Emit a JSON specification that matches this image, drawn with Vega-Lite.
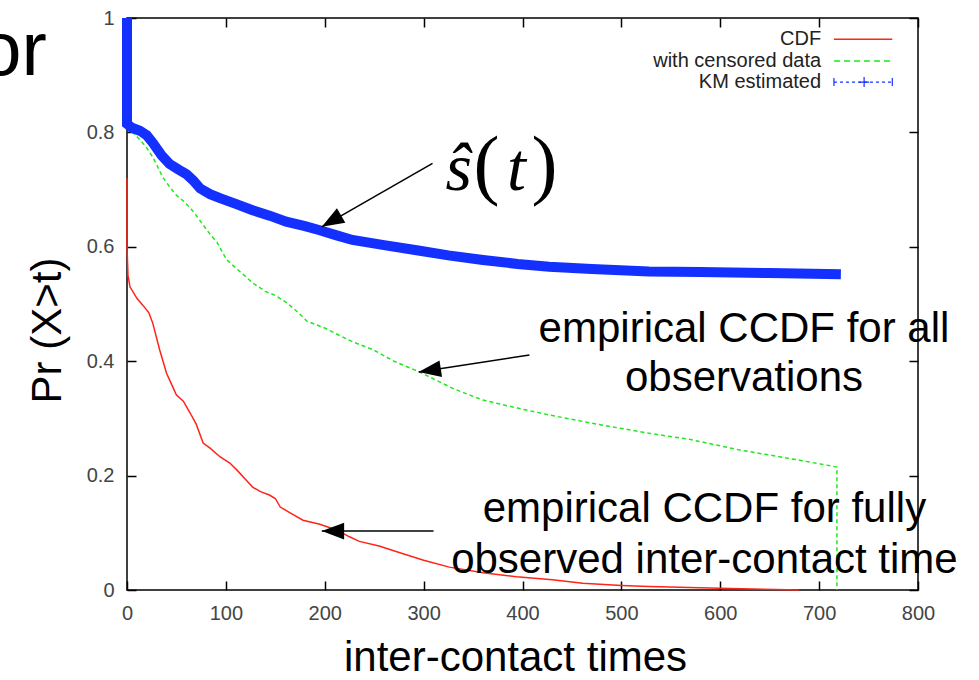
{
  "$schema": "https://vega.github.io/schema/vega-lite/v6.json",
  "width": 791,
  "height": 572,
  "autosize": {"type": "none"},
  "padding": {"left": 127, "top": 18, "right": 61, "bottom": 90},
  "background": "white",
  "config": {
    "view": {"stroke": "#000", "strokeWidth": 1.5},
    "font": "Liberation Sans"
  },
  "datasets": {
    "curves": [
      {"s": "red", "o": 0, "t": 0, "v": 0.72},
      {"s": "red", "o": 1, "t": 0, "v": 0.60},
      {"s": "red", "o": 2, "t": 1, "v": 0.55},
      {"s": "red", "o": 3, "t": 3, "v": 0.53},
      {"s": "red", "o": 4, "t": 10, "v": 0.51},
      {"s": "red", "o": 5, "t": 16, "v": 0.498},
      {"s": "red", "o": 6, "t": 22, "v": 0.485},
      {"s": "red", "o": 7, "t": 26, "v": 0.467},
      {"s": "red", "o": 8, "t": 33, "v": 0.42},
      {"s": "red", "o": 9, "t": 40, "v": 0.379},
      {"s": "red", "o": 10, "t": 45, "v": 0.36},
      {"s": "red", "o": 11, "t": 50, "v": 0.341},
      {"s": "red", "o": 12, "t": 57, "v": 0.33},
      {"s": "red", "o": 13, "t": 64, "v": 0.309},
      {"s": "red", "o": 14, "t": 70, "v": 0.29},
      {"s": "red", "o": 15, "t": 77, "v": 0.257},
      {"s": "red", "o": 16, "t": 84, "v": 0.248},
      {"s": "red", "o": 17, "t": 94, "v": 0.233},
      {"s": "red", "o": 18, "t": 104, "v": 0.222},
      {"s": "red", "o": 19, "t": 111, "v": 0.21},
      {"s": "red", "o": 20, "t": 120, "v": 0.193},
      {"s": "red", "o": 21, "t": 127, "v": 0.18},
      {"s": "red", "o": 22, "t": 135, "v": 0.172},
      {"s": "red", "o": 23, "t": 144, "v": 0.166},
      {"s": "red", "o": 24, "t": 150, "v": 0.16},
      {"s": "red", "o": 25, "t": 155, "v": 0.145},
      {"s": "red", "o": 26, "t": 165, "v": 0.135},
      {"s": "red", "o": 27, "t": 178, "v": 0.122},
      {"s": "red", "o": 28, "t": 195, "v": 0.115},
      {"s": "red", "o": 29, "t": 212, "v": 0.105},
      {"s": "red", "o": 30, "t": 225, "v": 0.093},
      {"s": "red", "o": 31, "t": 235, "v": 0.085},
      {"s": "red", "o": 32, "t": 255, "v": 0.077},
      {"s": "red", "o": 33, "t": 276, "v": 0.065},
      {"s": "red", "o": 34, "t": 300, "v": 0.052},
      {"s": "red", "o": 35, "t": 326, "v": 0.04},
      {"s": "red", "o": 36, "t": 360, "v": 0.03},
      {"s": "red", "o": 37, "t": 394, "v": 0.023},
      {"s": "red", "o": 38, "t": 430, "v": 0.018},
      {"s": "red", "o": 39, "t": 461, "v": 0.012},
      {"s": "red", "o": 40, "t": 500, "v": 0.008},
      {"s": "red", "o": 41, "t": 528, "v": 0.006},
      {"s": "red", "o": 42, "t": 600, "v": 0.003},
      {"s": "red", "o": 43, "t": 680, "v": 0.0},
      {"s": "green", "o": 0, "t": 0, "v": 0.81},
      {"s": "green", "o": 1, "t": 5, "v": 0.802},
      {"s": "green", "o": 2, "t": 13, "v": 0.787},
      {"s": "green", "o": 3, "t": 20, "v": 0.773},
      {"s": "green", "o": 4, "t": 26, "v": 0.757},
      {"s": "green", "o": 5, "t": 31, "v": 0.74},
      {"s": "green", "o": 6, "t": 36, "v": 0.722},
      {"s": "green", "o": 7, "t": 43, "v": 0.705},
      {"s": "green", "o": 8, "t": 50, "v": 0.69},
      {"s": "green", "o": 9, "t": 57, "v": 0.68},
      {"s": "green", "o": 10, "t": 64, "v": 0.668},
      {"s": "green", "o": 11, "t": 70, "v": 0.655},
      {"s": "green", "o": 12, "t": 77, "v": 0.638},
      {"s": "green", "o": 13, "t": 84, "v": 0.622},
      {"s": "green", "o": 14, "t": 91, "v": 0.608},
      {"s": "green", "o": 15, "t": 96, "v": 0.592},
      {"s": "green", "o": 16, "t": 101, "v": 0.577},
      {"s": "green", "o": 17, "t": 110, "v": 0.563},
      {"s": "green", "o": 18, "t": 120, "v": 0.548},
      {"s": "green", "o": 19, "t": 127, "v": 0.537},
      {"s": "green", "o": 20, "t": 140, "v": 0.522},
      {"s": "green", "o": 21, "t": 150, "v": 0.515},
      {"s": "green", "o": 22, "t": 161, "v": 0.503},
      {"s": "green", "o": 23, "t": 172, "v": 0.487},
      {"s": "green", "o": 24, "t": 182, "v": 0.47},
      {"s": "green", "o": 25, "t": 200, "v": 0.458},
      {"s": "green", "o": 26, "t": 215, "v": 0.445},
      {"s": "green", "o": 27, "t": 228, "v": 0.434},
      {"s": "green", "o": 28, "t": 249, "v": 0.42},
      {"s": "green", "o": 29, "t": 270, "v": 0.4},
      {"s": "green", "o": 30, "t": 296, "v": 0.381},
      {"s": "green", "o": 31, "t": 330, "v": 0.352},
      {"s": "green", "o": 32, "t": 360, "v": 0.332},
      {"s": "green", "o": 33, "t": 395, "v": 0.318},
      {"s": "green", "o": 34, "t": 427, "v": 0.306},
      {"s": "green", "o": 35, "t": 475, "v": 0.29},
      {"s": "green", "o": 36, "t": 528, "v": 0.274},
      {"s": "green", "o": 37, "t": 570, "v": 0.263},
      {"s": "green", "o": 38, "t": 619, "v": 0.245},
      {"s": "green", "o": 39, "t": 670, "v": 0.23},
      {"s": "green", "o": 40, "t": 718, "v": 0.215},
      {"s": "green", "o": 41, "t": 718, "v": 0.0},
      {"s": "blue", "o": 0, "t": 0, "v": 1.0},
      {"s": "blue", "o": 1, "t": 0, "v": 0.815},
      {"s": "blue", "o": 2, "t": 5, "v": 0.808},
      {"s": "blue", "o": 3, "t": 13, "v": 0.803},
      {"s": "blue", "o": 4, "t": 20, "v": 0.795},
      {"s": "blue", "o": 5, "t": 26, "v": 0.782},
      {"s": "blue", "o": 6, "t": 35, "v": 0.76},
      {"s": "blue", "o": 7, "t": 43, "v": 0.745},
      {"s": "blue", "o": 8, "t": 52, "v": 0.735},
      {"s": "blue", "o": 9, "t": 60, "v": 0.727},
      {"s": "blue", "o": 10, "t": 67, "v": 0.716},
      {"s": "blue", "o": 11, "t": 74, "v": 0.702},
      {"s": "blue", "o": 12, "t": 84, "v": 0.692},
      {"s": "blue", "o": 13, "t": 94, "v": 0.685},
      {"s": "blue", "o": 14, "t": 110, "v": 0.675},
      {"s": "blue", "o": 15, "t": 127, "v": 0.664},
      {"s": "blue", "o": 16, "t": 145, "v": 0.654},
      {"s": "blue", "o": 17, "t": 161, "v": 0.644},
      {"s": "blue", "o": 18, "t": 180, "v": 0.636},
      {"s": "blue", "o": 19, "t": 195, "v": 0.629},
      {"s": "blue", "o": 20, "t": 212, "v": 0.62},
      {"s": "blue", "o": 21, "t": 228, "v": 0.612},
      {"s": "blue", "o": 22, "t": 260, "v": 0.603},
      {"s": "blue", "o": 23, "t": 293, "v": 0.594},
      {"s": "blue", "o": 24, "t": 325, "v": 0.585},
      {"s": "blue", "o": 25, "t": 360, "v": 0.577},
      {"s": "blue", "o": 26, "t": 395, "v": 0.57},
      {"s": "blue", "o": 27, "t": 427, "v": 0.565},
      {"s": "blue", "o": 28, "t": 470, "v": 0.561},
      {"s": "blue", "o": 29, "t": 528, "v": 0.557},
      {"s": "blue", "o": 30, "t": 580, "v": 0.556},
      {"s": "blue", "o": 31, "t": 650, "v": 0.554},
      {"s": "blue", "o": 32, "t": 722, "v": 0.552}
    ],
    "legend": [
      {"label": "CDF", "s": "red", "v": 0.963},
      {"label": "with censored data", "s": "green", "v": 0.925},
      {"label": "KM estimated", "s": "blue", "v": 0.888}
    ],
    "arrows": [
      {"a": "s", "t1": 309, "v1": 0.746, "t2": 197, "v2": 0.635},
      {"a": "all", "t1": 407, "v1": 0.411, "t2": 295, "v2": 0.381},
      {"a": "fully", "t1": 310, "v1": 0.103, "t2": 197, "v2": 0.103}
    ],
    "notes": [
      {"text": "empirical CCDF for all", "t": 624, "v": 0.434},
      {"text": "observations", "t": 624, "v": 0.348},
      {"text": "empirical CCDF for fully", "t": 584, "v": 0.119},
      {"text": "observed inter-contact time", "t": 584, "v": 0.0297}
    ],
    "math": [
      {"ch": "ŝ", "t": 335.4, "v": 0.699, "it": true},
      {"ch": "(", "t": 363.6, "v": 0.699, "it": false},
      {"ch": "t", "t": 394, "v": 0.699, "it": true},
      {"ch": ")", "t": 422.2, "v": 0.699, "it": false}
    ],
    "slide": [
      {"text": "or", "t": -81, "v": 0.9}
    ]
  },
  "resolve": {"axis": {"x": "independent", "y": "independent"}},
  "layer": [
    {
      "data": {"name": "curves"},
      "transform": [{"filter": "datum.s === 'red'"}],
      "mark": {"type": "line", "color": "#ff2418", "strokeWidth": 1.5},
      "encoding": {
        "x": {"field": "t", "type": "quantitative",
          "scale": {"domain": [0, 800], "nice": false},
          "axis": {"orient": "bottom", "values": [0, 100, 200, 300, 400, 500, 600, 700, 800], "format": "d",
            "domain": false, "grid": false, "tickSize": -9, "tickWidth": 1.5, "tickColor": "#000",
            "labelPadding": 22, "labelFont": "Liberation Sans", "labelFontSize": 20, "labelColor": "#444",
            "labelFlush": false, "labelOverlap": false, "labelBound": false,
            "title": "inter-contact times", "titleFont": "Liberation Sans", "titleFontSize": 42,
            "titleFontWeight": "normal", "titleColor": "#000", "titleX": 388, "titleY": 80,
            "titleBaseline": "alphabetic", "titleAlign": "center"}},
        "y": {"field": "v", "type": "quantitative",
          "scale": {"domain": [0, 1], "nice": false},
          "axis": {"orient": "left", "values": [0, 0.2, 0.4, 0.6, 0.8, 1], "format": "~g",
            "domain": false, "grid": false, "tickSize": -9, "tickWidth": 1.5, "tickColor": "#000",
            "labelPadding": 22, "labelFont": "Liberation Sans", "labelFontSize": 20, "labelColor": "#444",
            "labelFlush": false, "labelOverlap": false, "labelBound": false,
            "title": "Pr (X>t)", "titleFont": "Liberation Sans", "titleFontSize": 42,
            "titleFontWeight": "normal", "titleColor": "#000", "titleAngle": 270, "titleX": -67, "titleY": 312,
            "titleBaseline": "alphabetic", "titleAlign": "center"}},
        "order": {"field": "o", "type": "quantitative"}
      }
    },
    {
      "data": {"name": "curves"},
      "transform": [{"filter": "datum.s === 'green'"}],
      "mark": {"type": "line", "color": "#1ee81e", "strokeWidth": 1.5, "strokeDash": [4, 3]},
      "encoding": {
        "x": {"field": "t", "type": "quantitative",
          "scale": {"domain": [0, 800], "nice": false},
          "axis": {"orient": "top", "values": [0, 100, 200, 300, 400, 500, 600, 700, 800],
            "domain": false, "grid": false, "labels": false, "tickSize": -9, "tickWidth": 1.5, "tickColor": "#000", "title": null}},
        "y": {"field": "v", "type": "quantitative",
          "scale": {"domain": [0, 1], "nice": false},
          "axis": {"orient": "right", "values": [0, 0.2, 0.4, 0.6, 0.8, 1],
            "domain": false, "grid": false, "labels": false, "tickSize": -9, "tickWidth": 1.5, "tickColor": "#000", "title": null}},
        "order": {"field": "o", "type": "quantitative"}
      }
    },
    {
      "data": {"name": "curves"},
      "transform": [{"filter": "datum.s === 'blue'"}],
      "mark": {"type": "line", "color": "#1430ff", "strokeWidth": 10, "strokeCap": "butt"},
      "encoding": {
        "x": {"field": "t", "type": "quantitative", "scale": {"domain": [0, 800], "nice": false}, "axis": null},
        "y": {"field": "v", "type": "quantitative", "scale": {"domain": [0, 1], "nice": false}, "axis": null},
        "order": {"field": "o", "type": "quantitative"}
      }
    },
    {
      "data": {"name": "legend"},
      "mark": {"type": "text", "align": "right", "baseline": "middle", "font": "Liberation Sans", "fontSize": 20, "color": "#222"},
      "encoding": {
        "x": {"datum": 702, "type": "quantitative", "scale": {"domain": [0, 800], "nice": false}, "axis": null},
        "y": {"field": "v", "type": "quantitative", "scale": {"domain": [0, 1], "nice": false}, "axis": null},
        "text": {"field": "label"}
      }
    },
    {
      "data": {"name": "legend"},
      "transform": [{"filter": "datum.s === 'red'"}],
      "mark": {"type": "rule", "color": "#ff2418", "strokeWidth": 1.5},
      "encoding": {
        "x": {"datum": 715, "type": "quantitative", "scale": {"domain": [0, 800], "nice": false}, "axis": null},
        "x2": {"datum": 774},
        "y": {"field": "v", "type": "quantitative", "scale": {"domain": [0, 1], "nice": false}, "axis": null}
      }
    },
    {
      "data": {"name": "legend"},
      "transform": [{"filter": "datum.s === 'green'"}],
      "mark": {"type": "rule", "color": "#1ee81e", "strokeWidth": 1.5, "strokeDash": [6, 4]},
      "encoding": {
        "x": {"datum": 715, "type": "quantitative", "scale": {"domain": [0, 800], "nice": false}, "axis": null},
        "x2": {"datum": 774},
        "y": {"field": "v", "type": "quantitative", "scale": {"domain": [0, 1], "nice": false}, "axis": null}
      }
    },
    {
      "data": {"name": "legend"},
      "transform": [{"filter": "datum.s === 'blue'"}],
      "mark": {"type": "rule", "color": "#1430ff", "strokeWidth": 1.2, "strokeDash": [3, 3]},
      "encoding": {
        "x": {"datum": 715, "type": "quantitative", "scale": {"domain": [0, 800], "nice": false}, "axis": null},
        "x2": {"datum": 774},
        "y": {"field": "v", "type": "quantitative", "scale": {"domain": [0, 1], "nice": false}, "axis": null}
      }
    },
    {
      "data": {"name": "legend"},
      "transform": [{"filter": "datum.s === 'blue'"}],
      "mark": {"type": "point", "shape": "M-1,0L1,0M0,-1L0,1", "size": 100, "filled": false, "color": "#1430ff", "strokeWidth": 1.2, "opacity": 1},
      "encoding": {
        "x": {"datum": 745.5, "type": "quantitative", "scale": {"domain": [0, 800], "nice": false}, "axis": null},
        "y": {"field": "v", "type": "quantitative", "scale": {"domain": [0, 1], "nice": false}, "axis": null}
      }
    },
    {
      "data": {"name": "legend"},
      "transform": [{"filter": "datum.s === 'blue'"}],
      "mark": {"type": "point", "shape": "M0,-1L0,1", "size": 64, "filled": false, "color": "#1430ff", "strokeWidth": 1.2, "opacity": 1},
      "encoding": {
        "x": {"datum": 715, "type": "quantitative", "scale": {"domain": [0, 800], "nice": false}, "axis": null},
        "y": {"field": "v", "type": "quantitative", "scale": {"domain": [0, 1], "nice": false}, "axis": null}
      }
    },
    {
      "data": {"name": "legend"},
      "transform": [{"filter": "datum.s === 'blue'"}],
      "mark": {"type": "point", "shape": "M0,-1L0,1", "size": 64, "filled": false, "color": "#1430ff", "strokeWidth": 1.2, "opacity": 1},
      "encoding": {
        "x": {"datum": 774, "type": "quantitative", "scale": {"domain": [0, 800], "nice": false}, "axis": null},
        "y": {"field": "v", "type": "quantitative", "scale": {"domain": [0, 1], "nice": false}, "axis": null}
      }
    },
    {
      "data": {"name": "arrows"},
      "mark": {"type": "rule", "color": "#000", "strokeWidth": 1.5},
      "encoding": {
        "x": {"field": "t1", "type": "quantitative", "scale": {"domain": [0, 800], "nice": false}, "axis": null},
        "y": {"field": "v1", "type": "quantitative", "scale": {"domain": [0, 1], "nice": false}, "axis": null},
        "x2": {"field": "t2"},
        "y2": {"field": "v2"}
      }
    },
    {
      "data": {"name": "arrows"},
      "transform": [{"filter": "datum.a === 's'"}],
      "mark": {"type": "point", "shape": "M0,0L2,-0.75L2,0.75Z", "size": 500, "filled": true, "color": "#000", "opacity": 1, "angle": 330},
      "encoding": {
        "x": {"field": "t2", "type": "quantitative", "scale": {"domain": [0, 800], "nice": false}, "axis": null},
        "y": {"field": "v2", "type": "quantitative", "scale": {"domain": [0, 1], "nice": false}, "axis": null}
      }
    },
    {
      "data": {"name": "arrows"},
      "transform": [{"filter": "datum.a === 'all'"}],
      "mark": {"type": "point", "shape": "M0,0L2,-0.75L2,0.75Z", "size": 500, "filled": true, "color": "#000", "opacity": 1, "angle": 351.3},
      "encoding": {
        "x": {"field": "t2", "type": "quantitative", "scale": {"domain": [0, 800], "nice": false}, "axis": null},
        "y": {"field": "v2", "type": "quantitative", "scale": {"domain": [0, 1], "nice": false}, "axis": null}
      }
    },
    {
      "data": {"name": "arrows"},
      "transform": [{"filter": "datum.a === 'fully'"}],
      "mark": {"type": "point", "shape": "M0,0L2,-0.75L2,0.75Z", "size": 500, "filled": true, "color": "#000", "opacity": 1, "angle": 0},
      "encoding": {
        "x": {"field": "t2", "type": "quantitative", "scale": {"domain": [0, 800], "nice": false}, "axis": null},
        "y": {"field": "v2", "type": "quantitative", "scale": {"domain": [0, 1], "nice": false}, "axis": null}
      }
    },
    {
      "data": {"name": "notes"},
      "mark": {"type": "text", "align": "center", "baseline": "alphabetic", "font": "Liberation Sans", "fontSize": 42, "color": "#000"},
      "encoding": {
        "x": {"field": "t", "type": "quantitative", "scale": {"domain": [0, 800], "nice": false}, "axis": null},
        "y": {"field": "v", "type": "quantitative", "scale": {"domain": [0, 1], "nice": false}, "axis": null},
        "text": {"field": "text"}
      }
    },
    {
      "data": {"name": "math"},
      "transform": [{"filter": "datum.it"}],
      "mark": {"type": "text", "align": "center", "baseline": "alphabetic", "font": "Liberation Serif", "fontStyle": "italic", "fontSize": 68, "color": "#000"},
      "encoding": {
        "x": {"field": "t", "type": "quantitative", "scale": {"domain": [0, 800], "nice": false}, "axis": null},
        "y": {"field": "v", "type": "quantitative", "scale": {"domain": [0, 1], "nice": false}, "axis": null},
        "text": {"field": "ch"}
      }
    },
    {
      "data": {"name": "math"},
      "transform": [{"filter": "!datum.it"}],
      "mark": {"type": "text", "align": "center", "baseline": "alphabetic", "font": "Liberation Serif", "fontSize": 78, "color": "#000"},
      "encoding": {
        "x": {"field": "t", "type": "quantitative", "scale": {"domain": [0, 800], "nice": false}, "axis": null},
        "y": {"field": "v", "type": "quantitative", "scale": {"domain": [0, 1], "nice": false}, "axis": null},
        "text": {"field": "ch"}
      }
    },
    {
      "data": {"name": "slide"},
      "mark": {"type": "text", "align": "right", "baseline": "alphabetic", "font": "Liberation Sans", "fontSize": 76, "color": "#000"},
      "encoding": {
        "x": {"field": "t", "type": "quantitative", "scale": {"domain": [0, 800], "nice": false}, "axis": null},
        "y": {"field": "v", "type": "quantitative", "scale": {"domain": [0, 1], "nice": false}, "axis": null},
        "text": {"field": "text"}
      }
    }
  ]
}
